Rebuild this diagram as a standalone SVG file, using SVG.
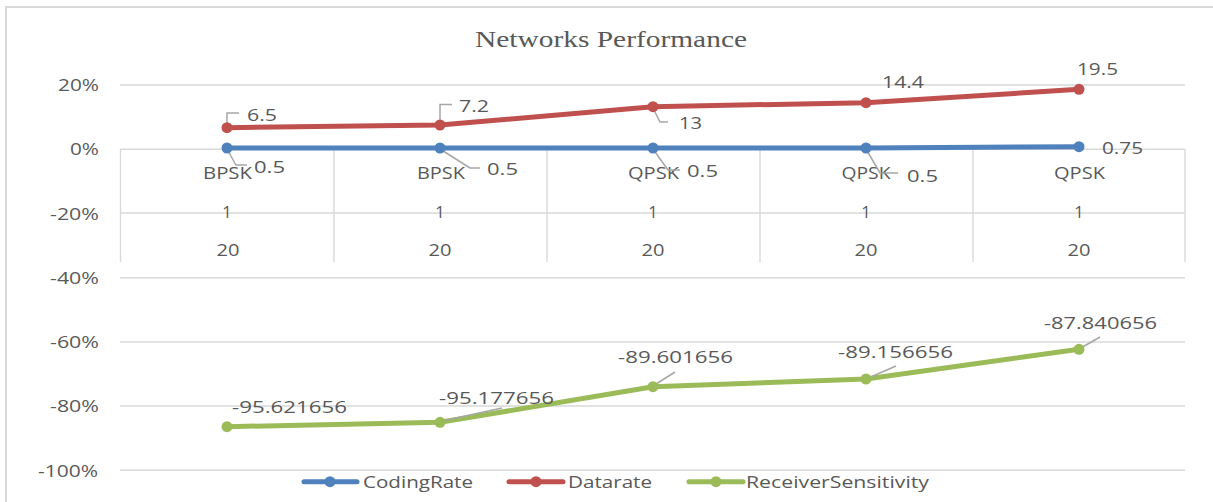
<svg xmlns="http://www.w3.org/2000/svg" width="1213" height="502" viewBox="0 0 1213 502">
<style>
.bg{fill:#ffffff}
.frame{fill:none;stroke:#d9d9d9;stroke-width:2}
.grid{stroke:#d9d9d9;stroke-width:1.4;fill:none}
.t{font-family:"Open Sans","Liberation Sans",Arial,sans-serif;font-size:16.5px;fill:#595959}
.title{font-family:"Liberation Serif","Times New Roman",serif;font-size:23px;fill:#595959}
.lead{fill:none;stroke:#a6a6a6;stroke-width:1.5}
.s{fill:none;stroke-width:5;stroke-linejoin:round;stroke-linecap:round}
.blue{stroke:#4f81bd}
.red{stroke:#c0504d}
.green{stroke:#9bbb59}
.mb{fill:#4f81bd}
.mr{fill:#c0504d}
.mg{fill:#9bbb59}
.mid{text-anchor:middle}
.end{text-anchor:end}
</style>
<rect class="bg" x="0" y="0" width="1213" height="502"/>
<path class="frame" d="M6,502 V7 H1213"/>
<text class="title" x="475" y="47" textLength="272" lengthAdjust="spacingAndGlyphs">Networks Performance</text>

<g id="grid">
<line class="grid" x1="120" y1="85" x2="1185" y2="85"/>
<line class="grid" x1="120" y1="149.3" x2="1185" y2="149.3"/>
<line class="grid" x1="120" y1="213" x2="1185" y2="213"/>
<line class="grid" x1="120" y1="277.7" x2="1185" y2="277.7"/>
<line class="grid" x1="120" y1="342" x2="1185" y2="342"/>
<line class="grid" x1="120" y1="406" x2="1185" y2="406"/>
<line class="grid" x1="120" y1="470.3" x2="1185" y2="470.3"/>
<line class="grid" x1="120.5" y1="149" x2="120.5" y2="262"/>
<line class="grid" x1="334" y1="149" x2="334" y2="262"/>
<line class="grid" x1="547" y1="149" x2="547" y2="262"/>
<line class="grid" x1="760" y1="149" x2="760" y2="262"/>
<line class="grid" x1="973" y1="149" x2="973" y2="262"/>
<line class="grid" x1="1185" y1="149" x2="1185" y2="262"/>
</g>

<g id="y-axis">
<text class="t end" x="99" y="90.7" textLength="41" lengthAdjust="spacingAndGlyphs">20%</text>
<text class="t end" x="99" y="155" textLength="29" lengthAdjust="spacingAndGlyphs">0%</text>
<text class="t end" x="99" y="220" textLength="49" lengthAdjust="spacingAndGlyphs">-20%</text>
<text class="t end" x="99" y="284.3" textLength="49" lengthAdjust="spacingAndGlyphs">-40%</text>
<text class="t end" x="99" y="348.3" textLength="49" lengthAdjust="spacingAndGlyphs">-60%</text>
<text class="t end" x="99" y="412.3" textLength="49" lengthAdjust="spacingAndGlyphs">-80%</text>
<text class="t end" x="98" y="476.7" textLength="60" lengthAdjust="spacingAndGlyphs">-100%</text>
</g>

<g id="category-axis">
<text class="t mid" x="227.5" y="179.3" textLength="49" lengthAdjust="spacingAndGlyphs">BPSK</text>
<text class="t mid" x="441" y="179.3" textLength="48" lengthAdjust="spacingAndGlyphs">BPSK</text>
<text class="t mid" x="653.5" y="178.5" textLength="51" lengthAdjust="spacingAndGlyphs">QPSK</text>
<text class="t mid" x="866" y="178.5" textLength="49" lengthAdjust="spacingAndGlyphs">QPSK</text>
<text class="t mid" x="1079.5" y="178.5" textLength="51" lengthAdjust="spacingAndGlyphs">QPSK</text>
<text class="t mid" x="227" y="218.3">1</text>
<text class="t mid" x="440" y="218.3">1</text>
<text class="t mid" x="653" y="218.3">1</text>
<text class="t mid" x="866" y="218.3">1</text>
<text class="t mid" x="1079" y="218.3">1</text>
<text class="t mid" x="228" y="256" textLength="23" lengthAdjust="spacingAndGlyphs">20</text>
<text class="t mid" x="440" y="256" textLength="23" lengthAdjust="spacingAndGlyphs">20</text>
<text class="t mid" x="653" y="256" textLength="23" lengthAdjust="spacingAndGlyphs">20</text>
<text class="t mid" x="866" y="256" textLength="23" lengthAdjust="spacingAndGlyphs">20</text>
<text class="t mid" x="1079" y="256" textLength="23" lengthAdjust="spacingAndGlyphs">20</text>
</g>

<g id="connectors">
<polyline class="s blue" points="227,148 440,148 653,148 866,148 1079,146.7"/>
<polyline class="s red" points="227,127.7 440,125 653,106.7 866,102.7 1079,89.3"/>
<polyline class="s green" points="227,426.7 440,422.3 653,386.7 866,379 1079,349.3"/>
</g>

<g id="leaders">
<polyline class="lead" points="227,124 227,113 239,113"/>
<polyline class="lead" points="227,149 236,165 247,165"/>
<polyline class="lead" points="440,122 440,104.5 452,104.5"/>
<polyline class="lead" points="440,149 470,168 480,168"/>
<polyline class="lead" points="653,108 660,122 668,122"/>
<polyline class="lead" points="653,149 668,170 680,170"/>
<polyline class="lead" points="866,149 880,173 898,173"/>
<polyline class="lead" points="442,421 502,408"/>
<polyline class="lead" points="653,386 675,372"/>
<polyline class="lead" points="866,379 896,366"/>
<polyline class="lead" points="1079,349 1100,337"/>
</g>

<g id="series-codingrate">
<circle class="mb" cx="227" cy="148" r="5.5"/>
<circle class="mb" cx="440" cy="148" r="5.5"/>
<circle class="mb" cx="653" cy="148" r="5.5"/>
<circle class="mb" cx="866" cy="148" r="5.5"/>
<circle class="mb" cx="1079" cy="146.7" r="5.5"/>
<text class="t" x="254" y="172.7" textLength="31" lengthAdjust="spacingAndGlyphs">0.5</text>
<text class="t" x="487" y="175" textLength="31" lengthAdjust="spacingAndGlyphs">0.5</text>
<text class="t" x="687" y="177.3" textLength="31" lengthAdjust="spacingAndGlyphs">0.5</text>
<text class="t" x="907" y="182.3" textLength="31" lengthAdjust="spacingAndGlyphs">0.5</text>
<text class="t" x="1102" y="154.3" textLength="41" lengthAdjust="spacingAndGlyphs">0.75</text>
</g>

<g id="series-datarate">
<circle class="mr" cx="227" cy="127.7" r="5.5"/>
<circle class="mr" cx="440" cy="125" r="5.5"/>
<circle class="mr" cx="653" cy="106.7" r="5.5"/>
<circle class="mr" cx="866" cy="102.7" r="5.5"/>
<circle class="mr" cx="1079" cy="89.3" r="5.5"/>
<text class="t" x="247" y="120.7" textLength="30" lengthAdjust="spacingAndGlyphs">6.5</text>
<text class="t" x="459" y="111.7" textLength="30" lengthAdjust="spacingAndGlyphs">7.2</text>
<text class="t" x="679" y="129.3" textLength="23" lengthAdjust="spacingAndGlyphs">13</text>
<text class="t" x="882" y="87.7" textLength="42" lengthAdjust="spacingAndGlyphs">14.4</text>
<text class="t" x="1077" y="75" textLength="41" lengthAdjust="spacingAndGlyphs">19.5</text>
</g>

<g id="series-receiversensitivity">
<circle class="mg" cx="227" cy="426.7" r="5.5"/>
<circle class="mg" cx="440" cy="422.3" r="5.5"/>
<circle class="mg" cx="653" cy="386.7" r="5.5"/>
<circle class="mg" cx="866" cy="379" r="5.5"/>
<circle class="mg" cx="1079" cy="349.3" r="5.5"/>
<text class="t" x="232" y="412.7" textLength="115" lengthAdjust="spacingAndGlyphs">-95.621656</text>
<text class="t" x="439" y="404" textLength="115" lengthAdjust="spacingAndGlyphs">-95.177656</text>
<text class="t" x="618" y="363.3" textLength="115" lengthAdjust="spacingAndGlyphs">-89.601656</text>
<text class="t" x="838" y="358.3" textLength="115" lengthAdjust="spacingAndGlyphs">-89.156656</text>
<text class="t" x="1044" y="329.3" textLength="113" lengthAdjust="spacingAndGlyphs">-87.840656</text>
</g>

<g id="legend">
<line class="s blue" x1="304" y1="481.7" x2="357" y2="481.7"/>
<circle class="mb" cx="330" cy="481.7" r="5.5"/>
<text class="t" x="363" y="488" textLength="110" lengthAdjust="spacingAndGlyphs">CodingRate</text>
<line class="s red" x1="509" y1="481.7" x2="563" y2="481.7"/>
<circle class="mr" cx="536" cy="481.7" r="5.5"/>
<text class="t" x="568" y="488" textLength="84" lengthAdjust="spacingAndGlyphs">Datarate</text>
<line class="s green" x1="689" y1="481.7" x2="743" y2="481.7"/>
<circle class="mg" cx="716" cy="481.7" r="5.5"/>
<text class="t" x="746" y="488" textLength="183" lengthAdjust="spacingAndGlyphs">ReceiverSensitivity</text>
</g>
</svg>
